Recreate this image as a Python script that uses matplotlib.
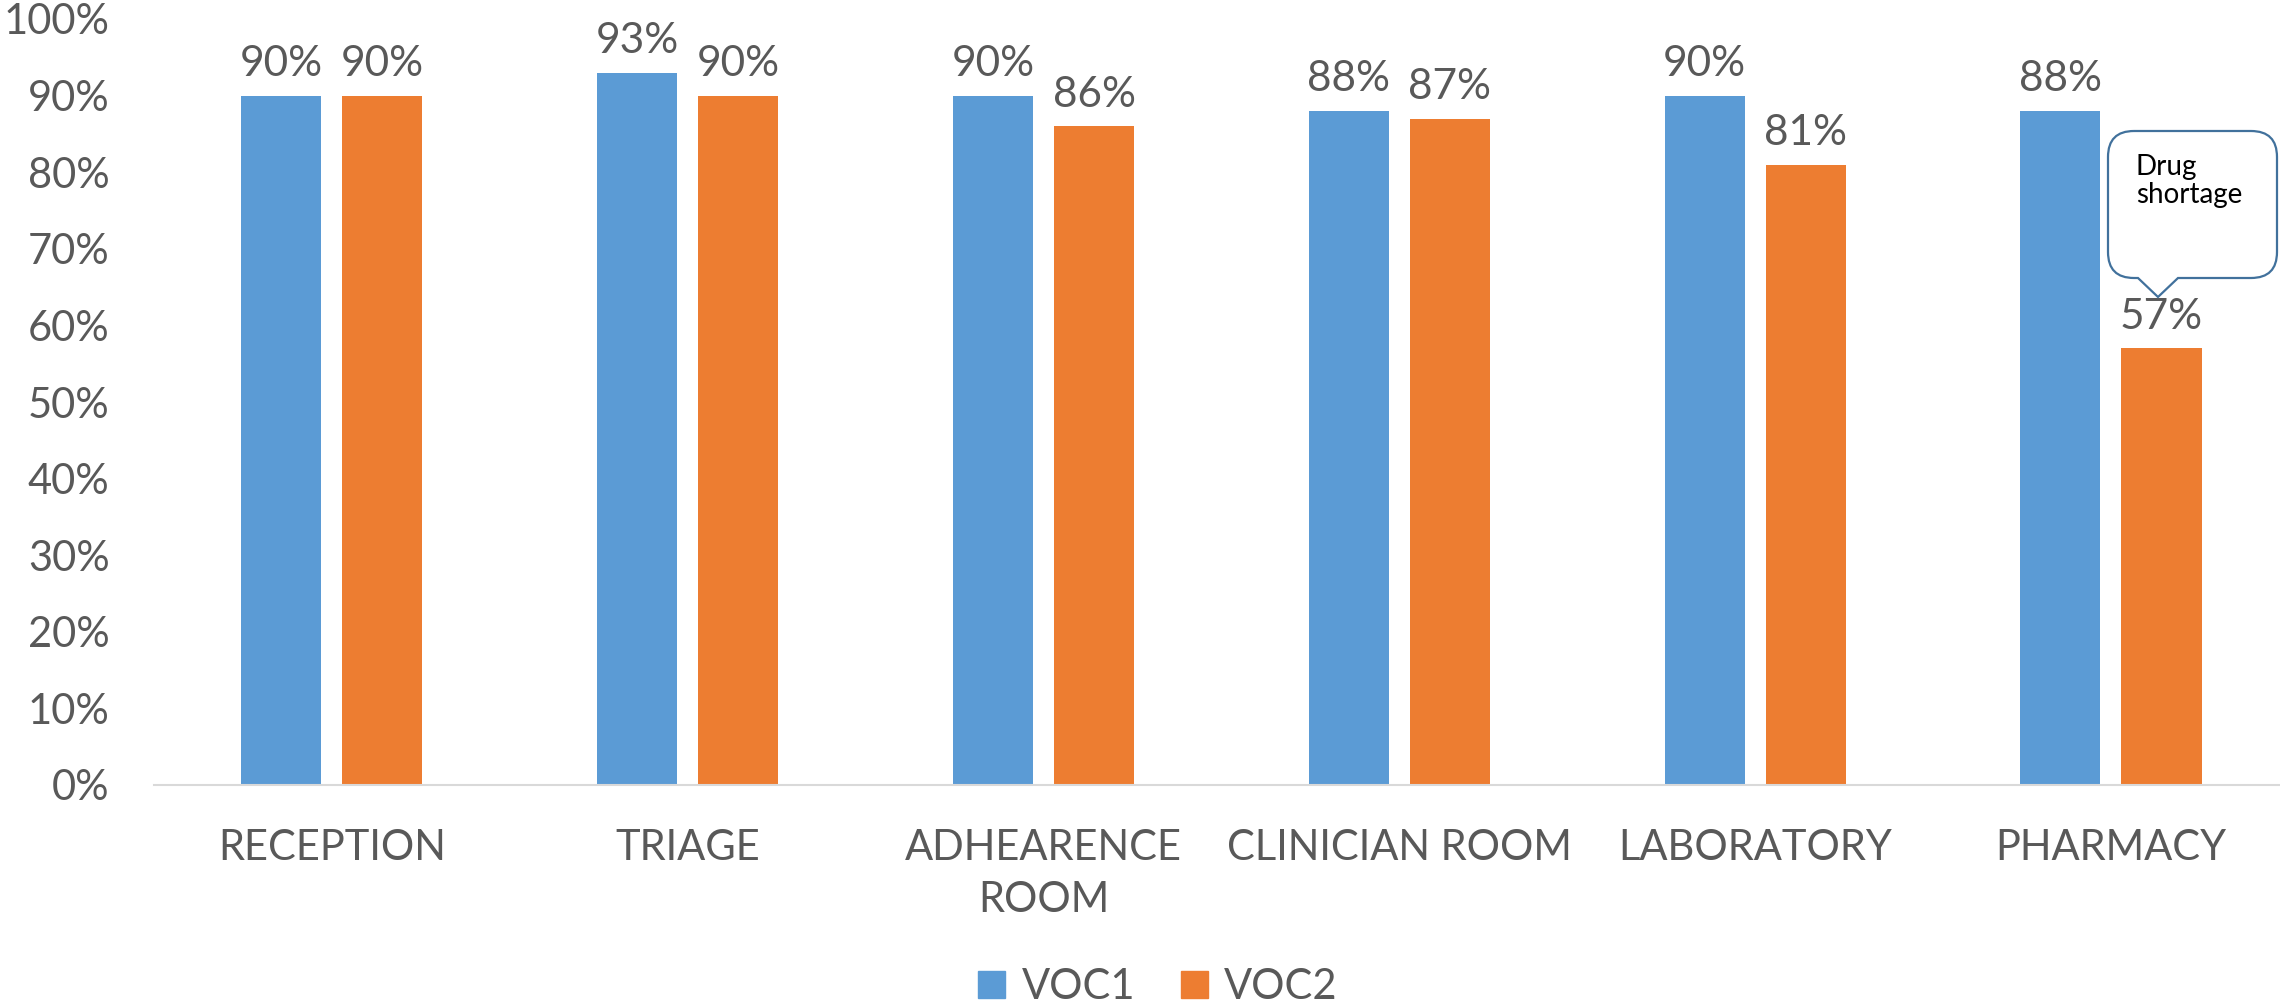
import numpy as np
import matplotlib
matplotlib.use("Agg")
import matplotlib.pyplot as plt
from matplotlib.path import Path
from matplotlib.patches import PathPatch, Patch

categories = ["RECEPTION", "TRIAGE", "ADHEARENCE\nROOM", "CLINICIAN ROOM", "LABORATORY", "PHARMACY"]
voc1 = [90, 93, 90, 88, 90, 88]
voc2 = [90, 90, 86, 87, 81, 57]
series_names = ["VOC1", "VOC2"]
yticks = [0, 10, 20, 30, 40, 50, 60, 70, 80, 90, 100]

BLUE = "#5B9BD5"
ORANGE = "#ED7D31"
GREY = "#595959"

plt.rcParams["font.family"] = ["Lato", "DejaVu Sans"]

W, H = 2280, 1008
fig = plt.figure(figsize=(W / 100, H / 100), dpi=100)
ax = fig.add_axes([154 / W, 1 - 785 / H, (2280 - 154) / W, (785 - 19) / H])

x = np.arange(len(categories))
bw = 0.225
off = 0.142
b1 = ax.bar(x - off, voc1, bw, color=BLUE, label=series_names[0])
b2 = ax.bar(x + off, voc2, bw, color=ORANGE, label=series_names[1])

for bars, vals in ((b1, voc1), (b2, voc2)):
    for rect, v in zip(bars, vals):
        ax.annotate(f"{v}%", (rect.get_x() + rect.get_width() / 2, v),
                    xytext=(0, 9), textcoords="offset points",
                    ha="center", va="bottom", fontsize=30.5, color=GREY)

ax.set_xlim(-0.5, 5.475)
ax.set_ylim(0, 100)
ax.set_yticks(yticks)
ax.set_yticklabels([f"{t}%" for t in yticks])
ax.set_xticks(x)
ax.set_xticklabels(categories, linespacing=1.45)
ax.tick_params(axis="both", length=0, labelsize=30, labelcolor=GREY)
ax.tick_params(axis="x", pad=32)
ax.tick_params(axis="y", pad=32)
for s in ("top", "right", "left"):
    ax.spines[s].set_visible(False)
ax.spines["bottom"].set_color("#D9D9D9")
ax.spines["bottom"].set_linewidth(1.5)

# callout bubble over the pharmacy VOC2 bar (figure pixel coords)
x0, x1, y0, y1, r = 2108, 2277, 131, 278, 26
tip = (2158, 297)
pb0, pb1 = 2138, 2178
pts = [
    (x0 + r, y0), (x1 - r, y0), (x1, y0), (x1, y0 + r),
    (x1, y1 - r), (x1, y1), (x1 - r, y1),
    (pb1, y1), tip, (pb0, y1),
    (x0 + r, y1), (x0, y1), (x0, y1 - r),
    (x0, y0 + r), (x0, y0), (x0 + r, y0),
]
codes = [Path.MOVETO, Path.LINETO, Path.CURVE3, Path.CURVE3,
         Path.LINETO, Path.CURVE3, Path.CURVE3,
         Path.LINETO, Path.LINETO, Path.LINETO,
         Path.LINETO, Path.CURVE3, Path.CURVE3,
         Path.LINETO, Path.CURVE3, Path.CURVE3]
verts = [(px / W, 1 - py / H) for px, py in pts]
bubble = PathPatch(Path(verts, codes), transform=fig.transFigure,
                   facecolor="white", edgecolor="#41719C", linewidth=1.6, zorder=5)
fig.patches.append(bubble)
fig.text(2136 / W, 1 - 154 / H, "Drug\nshortage", ha="left", va="top",
         fontsize=20, color="black", linespacing=1.1, zorder=6)

handles = [Patch(color=BLUE), Patch(color=ORANGE)]
fig.legend(handles, series_names, loc="center", bbox_to_anchor=(1158 / W, 1 - 987 / H),
           ncol=2, frameon=False, fontsize=30, labelcolor=GREY,
           handlelength=0.64, handleheight=0.64, handletextpad=0.4, columnspacing=1.1)

fig.savefig("out.png", dpi=100)
